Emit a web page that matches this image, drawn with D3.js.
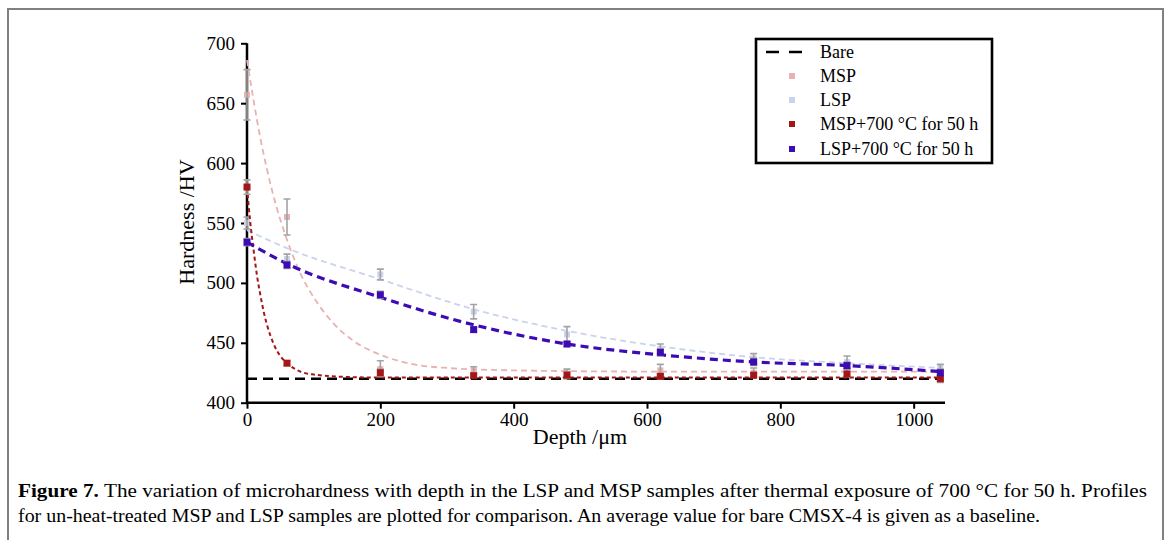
<!DOCTYPE html>
<html>
<head>
<meta charset="utf-8">
<script src="https://cdn.jsdelivr.net/npm/d3@7"></script>
<style>
  html, body { margin: 0; padding: 0; background: #fff; }
  svg { display: block; font-family: "Liberation Serif", "Times New Roman", serif; }
</style>
</head>
<body>
<svg id="chart" width="1170" height="540"></svg>
<script>
// Figure 7 — microhardness vs depth (MSP / LSP, before and after 700 °C for 50 h)

const DEPTH = [0, 60, 200, 340, 480, 620, 760, 900, 1040];

const MSP = [657, 555, 428, 427, 424, 427, 425, 424, 422];
const MSP_ERR = [21, 15, 7, 3, 4, 5, 4, 4, 3];
const LSP = [550, 520, 507, 476, 457, 445, 437, 434, 429];
const LSP_ERR = [5, 4, 4.5, 6, 6.5, 4, 4, 5, 3];
const MSP700 = [580, 433, 425, 422.5, 423, 422, 423, 424, 420];
const MSP700_ERR = [6, 2, 3, 2, 3, 2, 2, 2, 3];
const LSP700 = [534, 515, 490, 461, 449, 442, 434, 431, 425];
const LSP700_ERR = [3, 3, 3, 2, 2, 3, 3, 3, 3];

const BARE = 420;

// fitted trend curves
const MSP_FIT_X = [0, 20, 40, 60, 80, 100, 130, 160, 200, 250, 300, 400, 600, 1040];
const MSP_FIT_Y = [686, 621, 572, 536, 508, 488, 466, 451.5, 440, 432, 429, 427, 426, 426];
const LSP_FIT_X = [0, 60, 200, 340, 480, 620, 760, 900, 1040];
const LSP_FIT_Y = [544, 529, 503, 478, 460, 447, 438, 433, 429];
const MSP700_FIT_X = [0, 5, 10, 15, 20, 25, 30, 40, 50, 60, 80, 100, 150, 200, 1040];
const MSP700_FIT_Y = [580, 550, 527, 506, 490, 476, 465, 449, 439, 433, 426, 423.5, 421.5, 421, 421];
const LSP700_FIT_X = [0, 60, 200, 340, 480, 620, 760, 900, 1040];
const LSP700_FIT_Y = [534, 516, 488, 465, 449, 440, 434, 431, 426];

const Y_TICKS = [400, 450, 500, 550, 600, 650, 700];
const X_TICKS = [0, 200, 400, 600, 800, 1000];

const LEGEND = ["Bare", "MSP", "LSP", "MSP+700 °C for 50 h", "LSP+700 °C for 50 h"];

const CAPTION_1 = "The variation of microhardness with depth in the LSP and MSP samples after thermal exposure of 700 °C for 50 h. Profiles";
const CAPTION_2 = "for un-heat-treated MSP and LSP samples are plotted for comparison. An average value for bare CMSX-4 is given as a baseline.";

const C_MSP = "#e8b2b2", C_LSP = "#c9d3ed", C_MSP700 = "#a51616", C_LSP700 = "#3c0bb4", C_ERR = "#a3a3a3";

const svg = d3.select("#chart");

// outer figure frame (top + sides)
svg.append("path")
  .attr("d", "M8,541 L8,9 L1163,9 L1163,541")
  .attr("fill", "none").attr("stroke", "#808080").attr("stroke-width", 2);

const x = d3.scaleLinear().domain([0, 1047]).range([247, 945]);
const y = d3.scaleLinear().domain([400, 700]).range([402.7, 43.3]);

// axes
const yAxis = svg.append("g").attr("transform", `translate(${x(0)},0)`)
  .call(d3.axisLeft(y).tickValues(Y_TICKS).tickSize(6).tickPadding(6).tickFormat(d3.format("d")));
const xAxis = svg.append("g").attr("transform", `translate(0,${y(400)})`)
  .call(d3.axisBottom(x).tickValues(X_TICKS).tickSize(6).tickPadding(4).tickFormat(d3.format("d")));
[yAxis, xAxis].forEach((a) => {
  a.select(".domain").attr("stroke-width", 2.5).attr("stroke", "#000");
  a.selectAll(".tick line").attr("stroke-width", 2).attr("stroke", "#000");
  a.selectAll("text").style("font-size", "19px").style("font-family", "Liberation Serif").attr("fill", "#000");
});
// plain domain lines, no outer ticks
xAxis.select(".domain").attr("d", `M${x(0)},0H${x(1047)}`);
yAxis.select(".domain").attr("d", `M0,${y(400)}V${y(700)}`);

svg.append("text")
  .attr("transform", `translate(194,222) rotate(-90)`)
  .attr("text-anchor", "middle").style("font-size", "22px")
  .text("Hardness /HV");
svg.append("text")
  .attr("x", 580).attr("y", 444)
  .attr("text-anchor", "middle").style("font-size", "22px")
  .text("Depth /μm");

const line = d3.line().x((d) => x(d[0])).y((d) => y(d[1])).curve(d3.curveMonotoneX);
const zipXY = (xs, ys) => xs.map((v, i) => [v, ys[i]]);

function trend(xs, ys, color, width, dash) {
  svg.append("path").datum(zipXY(xs, ys))
    .attr("fill", "none").attr("stroke", color)
    .attr("stroke-width", width).attr("stroke-dasharray", dash)
    .attr("d", line);
}

function errorBars(vals, errs) {
  const g = svg.append("g").attr("stroke", C_ERR).attr("stroke-width", 1.6).attr("fill", "none");
  DEPTH.forEach((d, i) => {
    const cx = x(d), y1 = y(vals[i] + errs[i]), y2 = y(vals[i] - errs[i]);
    g.append("path").attr("d", `M${cx},${y1}V${y2}M${cx - 3.5},${y1}H${cx + 3.5}M${cx - 3.5},${y2}H${cx + 3.5}`);
  });
}

function markers(vals, color, size) {
  svg.append("g").selectAll("rect").data(DEPTH).join("rect")
    .attr("x", (d) => x(d) - size / 2)
    .attr("y", (d, i) => y(vals[i]) - size / 2)
    .attr("width", size).attr("height", size)
    .attr("fill", color);
}

// un-heat-treated (light) series
trend(MSP_FIT_X, MSP_FIT_Y, C_MSP, 1.8, "6,4");
trend(LSP_FIT_X, LSP_FIT_Y, C_LSP, 1.8, "6,4");
markers(MSP, C_MSP, 6);
markers(LSP, C_LSP, 6);
errorBars(MSP, MSP_ERR);
errorBars(LSP, LSP_ERR);

// bare baseline
svg.append("path").datum([[0, BARE], [1040, BARE]])
  .attr("fill", "none").attr("stroke", "#000").attr("stroke-width", 2.6)
  .attr("stroke-dasharray", "10,6").attr("d", line);

// heat-treated series
trend(MSP700_FIT_X, MSP700_FIT_Y, C_MSP700, 2, "4,3");
trend(LSP700_FIT_X, LSP700_FIT_Y, C_LSP700, 3.2, "8,5");
errorBars(MSP700, MSP700_ERR);
errorBars(LSP700, LSP700_ERR);
markers(MSP700, C_MSP700, 7);
markers(LSP700, C_LSP700, 7);

// legend
const lg = svg.append("g");
lg.append("rect").attr("x", 756).attr("y", 39).attr("width", 236).attr("height", 124)
  .attr("fill", "#fff").attr("stroke", "#000").attr("stroke-width", 2.6);
const LEG_Y = [52, 76, 100, 124, 149];
const LEG_COL = [null, C_MSP, C_LSP, C_MSP700, C_LSP700];
LEGEND.forEach((t, i) => {
  if (i === 0) {
    lg.append("line").attr("x1", 766).attr("x2", 804).attr("y1", LEG_Y[i]).attr("y2", LEG_Y[i])
      .attr("stroke", "#000").attr("stroke-width", 2.4).attr("stroke-dasharray", "13,10");
  } else {
    lg.append("rect").attr("x", 789).attr("y", LEG_Y[i] - 3).attr("width", 6).attr("height", 6)
      .attr("fill", LEG_COL[i]);
  }
  lg.append("text").attr("x", 820).attr("y", LEG_Y[i] + 6)
    .style("font-size", "18px").text(t);
});

// caption
const cap = svg.append("text").attr("x", 18).attr("y", 497).style("font-size", "19px")
  .attr("textLength", 1129).attr("lengthAdjust", "spacingAndGlyphs");
cap.append("tspan").style("font-weight", "bold").text("Figure 7. ");
cap.append("tspan").text(CAPTION_1);
svg.append("text").attr("x", 18).attr("y", 522).style("font-size", "19px")
  .attr("textLength", 1022).attr("lengthAdjust", "spacingAndGlyphs")
  .text(CAPTION_2);
</script>
</body>
</html>
